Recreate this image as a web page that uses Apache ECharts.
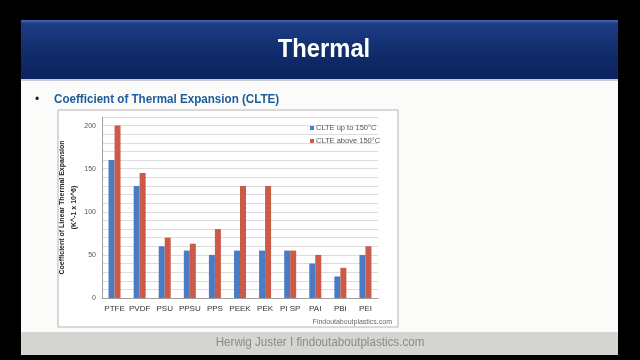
<!DOCTYPE html>
<html>
<head>
<meta charset="utf-8">
<script src="https://cdn.jsdelivr.net/npm/echarts@6/dist/echarts.min.js"></script>
<style>html,body{margin:0;padding:0;background:#000;}#c{width:640px;height:360px;}</style>
</head>
<body>
<div id="c"></div>
<script>
var categories = ['PTFE','PVDF','PSU','PPSU','PPS','PEEK','PEK','PI SP','PAI','PBI','PEI'];
var seriesNames = ['CLTE up to 150°C','CLTE above 150°C'];
var upTo150 = [160,130,60,55,50,55,55,55,40,25,50];
var above150 = [200,145,70,63,80,130,130,55,50,35,60];
var yTickLabels = [0,50,100,150,200];

var chart = echarts.init(document.getElementById('c'), null, {renderer:'canvas'});
var option = {
  backgroundColor:'#000',
  animation:false,
  graphic:[
    {type:'rect', z:-10, shape:{x:21,y:80,width:597,height:252}, style:{fill:'#fbfbf9'}},
    {type:'rect', z:-10, shape:{x:21,y:332,width:597,height:23}, style:{fill:'#d5d5d1'}},
    {type:'rect', z:-10, shape:{x:21,y:20,width:597,height:60}, style:{fill:{type:'linear',x:0,y:0,x2:0,y2:1,colorStops:[{offset:0,color:'#4a6ab0'},{offset:0.06,color:'#1e3d86'},{offset:0.5,color:'#112d6c'},{offset:1,color:'#0c2360'}]}}},
    {type:'rect', z:-10, shape:{x:21,y:79,width:597,height:2}, style:{fill:'#c9ccd6'}},
    {type:'text', z:5, x:324, y:50, scaleX:0.95, originX:0, originY:0, style:{text:'Thermal', fill:'#ffffff', font:'bold 25px "Liberation Sans", Arial, sans-serif', align:'center', verticalAlign:'middle'}},
    {type:'text', z:5, x:37, y:100, style:{text:'•', fill:'#222', font:'12px "Liberation Sans", Arial, sans-serif', align:'center', verticalAlign:'middle'}},
    {type:'text', z:5, x:54, y:100, scaleX:0.93, originX:0, originY:0, style:{text:'Coefficient of Thermal Expansion (CLTE)', fill:'#1d5c9c', font:'bold 12.5px "Liberation Sans", Arial, sans-serif', align:'left', verticalAlign:'middle'}},
    {type:'rect', z:-5, shape:{x:58,y:110,width:340,height:217}, style:{fill:'#ffffff', stroke:'#b4b4b4', lineWidth:1}},
    {type:'text', z:5, x:392, y:322, style:{text:'Findoutaboutplastics.com', fill:'#666', font:'7px "Liberation Sans", Arial, sans-serif', align:'right', verticalAlign:'middle'}},
    {type:'text', z:5, x:320, y:343, scaleX:0.93, originX:0, originY:0, style:{text:'Herwig Juster I findoutaboutplastics.com', fill:'#8a8a8a', font:'12.5px "Liberation Sans", Arial, sans-serif', align:'center', verticalAlign:'middle'}}
  ],
  legend:{
    data:seriesNames, orient:'vertical', left:305, top:119, itemWidth:4, itemHeight:4, itemGap:5,
    textStyle:{fontSize:7.5, color:'#555', fontFamily:'"Liberation Sans", Arial, sans-serif', padding:[0,0,0,-3]},
    icon:'rect'
  },
  grid:{left:102, top:117, right:262, bottom:62, containLabel:false},
  xAxis:{
    type:'category', data:categories,
    axisLine:{lineStyle:{color:'#a0a0a0'}},
    axisTick:{show:false},
    axisLabel:{fontSize:8, color:'#333', margin:7, fontFamily:'"Liberation Sans", Arial, sans-serif', interval:0}
  },
  yAxis:{
    type:'value', min:0, max:210, interval:10,
    name:'Coefficient of Linear Thermal Expansion\n(K^-1 x 10^6)',
    nameLocation:'middle', nameRotate:90, nameGap:19,
    nameTextStyle:{fontSize:7, fontWeight:'bold', color:'#222', lineHeight:12, fontFamily:'"Liberation Sans", Arial, sans-serif'},
    axisLine:{show:true, lineStyle:{color:'#a0a0a0'}},
    axisTick:{show:false},
    splitLine:{lineStyle:{color:'#dcdcdc'}},
    axisLabel:{fontSize:7, color:'#555', margin:6, fontFamily:'"Liberation Sans", Arial, sans-serif',
      formatter:function(v){return yTickLabels.indexOf(v)>=0 ? String(v) : '';}}
  },
  series:[
    {name:seriesNames[0], type:'bar', data:upTo150, barWidth:6, barGap:'0%', itemStyle:{color:'#4a7bc5'}},
    {name:seriesNames[1], type:'bar', data:above150, barWidth:6, barGap:'0%', itemStyle:{color:'#cc5a48'}}
  ]
};
chart.setOption(option);
</script>
</body>
</html>
